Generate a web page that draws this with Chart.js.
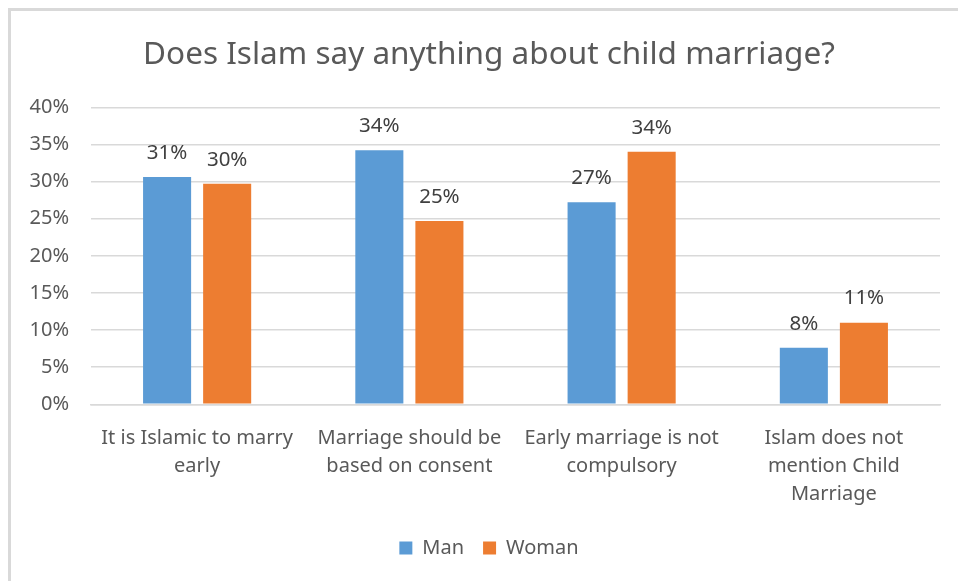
<!DOCTYPE html>
<html>
<head>
<meta charset="utf-8">
<script src="https://cdn.jsdelivr.net/npm/chart.js@4/dist/chart.umd.min.js"></script>
<style>
  html, body { margin: 0; padding: 0; background: #ffffff; }
  #wrap { position: relative; width: 958px; height: 581px; overflow: hidden; }
  #frame { position: absolute; left: 8px; top: 8px; width: 1000px; height: 600px;
           border-left: 3px solid #d9d9d9; border-top: 3px solid #d9d9d9; }
  canvas { position: absolute; left: 0; top: 0; }
</style>
</head>
<body>
<div id="wrap">
  <div id="frame"></div>
  <canvas id="chart" width="958" height="581"></canvas>
</div>
<script>
// Survey answers, share of respondents (%)
const categories = [
  ["It is Islamic to marry", "early"],
  ["Marriage should be", "based on consent"],
  ["Early marriage is not", "compulsory"],
  ["Islam does not", "mention Child", "Marriage"]
];
const seriesNames = ["Man", "Woman"];
const manValues = [30.6, 34.2, 27.2, 7.6];
const womanValues = [29.7, 24.7, 34.0, 11.0];
const yTicks = [0, 5, 10, 15, 20, 25, 30, 35, 40];

const FONT = "'Noto Sans', sans-serif";
const TEXT = "#595959";

// Writes each bar's rounded value above it
const valueLabels = {
  id: "valueLabels",
  afterDatasetsDraw(chart) {
    const ctx = chart.ctx;
    ctx.save();
    ctx.font = "20.5px " + FONT;
    ctx.fillStyle = "#404040";
    ctx.textAlign = "center";
    ctx.textBaseline = "middle";
    chart.data.datasets.forEach((ds, i) => {
      chart.getDatasetMeta(i).data.forEach((bar, j) => {
        ctx.fillText(Math.round(ds.data[j]) + "%", bar.x, bar.y - 24);
      });
    });
    ctx.restore();
  }
};

// Lets the y tick labels extend into the left padding instead of being clipped
const widenYLabelArea = {
  id: "widenYLabelArea",
  afterLayout(chart) { chart.scales.y.left = 0; }
};

new Chart(document.getElementById("chart"), {
  type: "bar",
  data: {
    labels: categories,
    datasets: [
      { label: seriesNames[0], data: manValues, backgroundColor: "#5b9bd5" },
      { label: seriesNames[1], data: womanValues, backgroundColor: "#ed7d31" }
    ]
  },
  options: {
    responsive: false,
    animation: false,
    devicePixelRatio: 1,
    categoryPercentage: 0.566,
    barPercentage: 0.8,
    layout: { padding: { left: 38, right: 18, top: 0, bottom: 13 } },
    plugins: {
      title: {
        display: true,
        text: "Does Islam say anything about child marriage?",
        color: TEXT,
        font: { family: FONT, size: 31.5, weight: "normal", lineHeight: 1.2 },
        padding: { top: 36, bottom: 33.5 }
      },
      legend: {
        position: "bottom",
        labels: {
          color: TEXT,
          font: { family: FONT, size: 20 },
          boxWidth: 13,
          boxHeight: 13,
          padding: 19
        }
      },
      tooltip: { enabled: false }
    },
    scales: {
      x: {
        grid: { display: false, drawTicks: false },
        border: { display: true, color: "#d9d9d9", width: 1.5 },
        ticks: {
          color: TEXT,
          font: { family: FONT, size: 20, lineHeight: 1.4 },
          padding: 20,
          maxRotation: 0,
          autoSkip: false
        },
        afterFit(scale) { scale.height = 114.7; }
      },
      y: {
        min: 0,
        max: 40,
        afterBuildTicks(scale) { scale.ticks = yTicks.map(v => ({ value: v })); },
        grid: { color: "#d9d9d9", lineWidth: 1.5, drawTicks: false },
        border: { display: false },
        ticks: {
          color: TEXT,
          font: { family: FONT, size: 20 },
          padding: 22,
          callback: v => v + "%"
        },
        afterFit(scale) { scale.width = 53; }
      }
    }
  },
  plugins: [valueLabels, widenYLabelArea]
});
</script>
</body>
</html>
